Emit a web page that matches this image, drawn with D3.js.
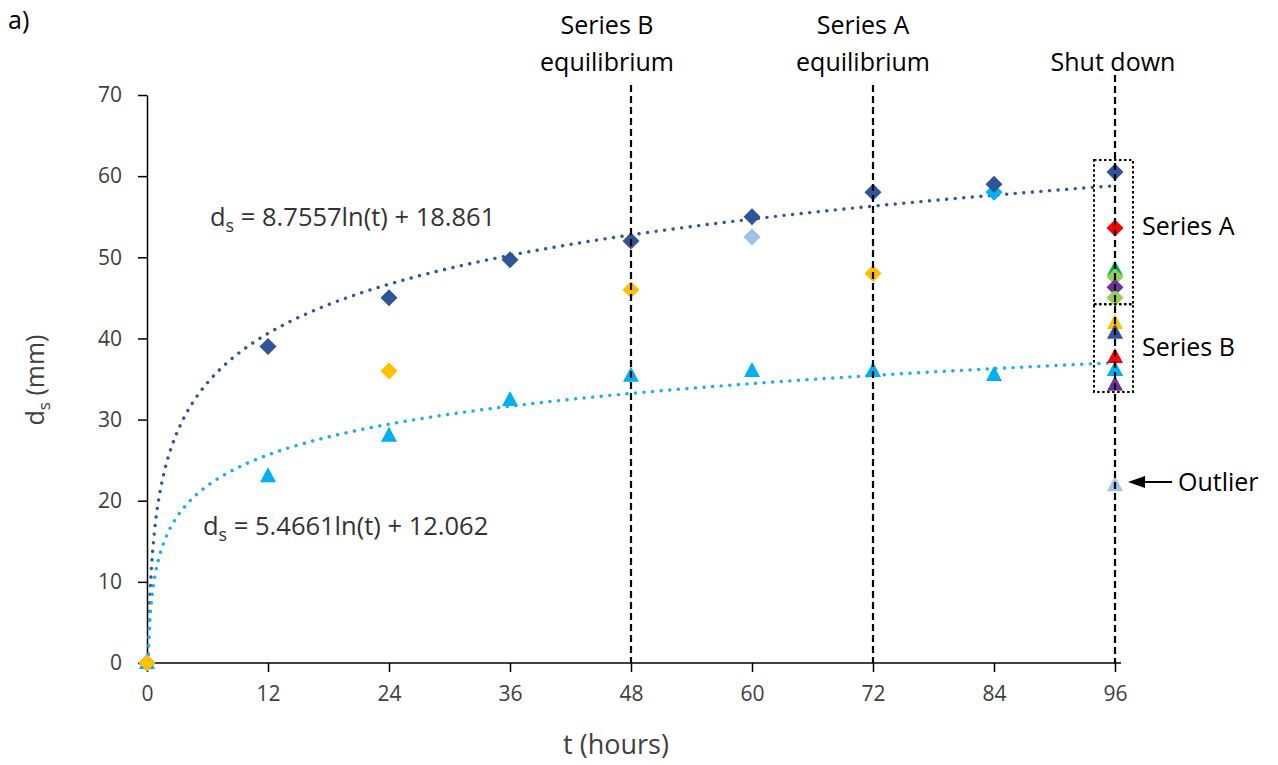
<!DOCTYPE html>
<html>
<head>
<meta charset="utf-8">
<script src="https://cdn.jsdelivr.net/npm/d3@7"></script>
<style>
  body { margin: 0; background: #fff; }
  text { font-family: "Open Sans", sans-serif; }
</style>
</head>
<body>
<svg id="chart" width="1278" height="765"></svg>
<script>
// hours on the x axis
const hours = [0, 12, 24, 36, 48, 60, 72, 84, 96];
const yTicks = [0, 10, 20, 30, 40, 50, 60, 70];

// main series
const seriesA = [0, 39, 45, 49.7, 52, 55, 58, 59, 60.5];      // dark blue diamonds
const seriesB = [0, 23, 28, 32.4, 35.4, 36, 36, 35.5, 36.1];  // cyan triangles

// other single runs
const yellowT = [0, 24, 48, 72];
const yellowV = [0, 36, 46, 48];
const lightBlueT = [60];
const lightBlueV = [52.5];
const cyanDiaT = [84];
const cyanDiaV = [58];

// shut down points at 96 h
const shutColors = ["#ff0000", "#00b050", "#92d050", "#7030a0", "#92d050",
                    "#ffc000", "#2f5597", "#ff0000", "#7030a0"];
const shutShapes = ["d", "t", "d", "d", "d", "t", "t", "t", "t"];
const shutValues = [53.6, 48.5, 47.6, 46.3, 45.0, 41.9, 40.7, 37.7, 34.3];
const outlierValue = 21.9;

// trendlines ds = a ln(t) + b
const trendA = [8.7557, 18.861];
const trendB = [5.4661, 12.062];

const svg = d3.select("#chart");
const x = d3.scaleLinear().domain([0, 96]).range([147, 1115]);
const y = d3.scaleLinear().domain([0, 70]).range([663, 95]);

const darkBlue = "#2f5597", cyan = "#00b0f0";

// axes
const gx = svg.append("g").attr("transform", "translate(0,663)")
  .call(d3.axisBottom(x).tickValues(hours).tickSize(9).tickPadding(14).tickSizeOuter(0));
gx.select(".domain").attr("d", "M147,0H1121");
const gy = svg.append("g").attr("transform", "translate(147,0)")
  .call(d3.axisLeft(y).tickValues(yTicks).tickSize(9).tickPadding(16).tickSizeOuter(0));
svg.selectAll(".domain, .tick line").attr("stroke", "#000").attr("stroke-width", 1.5);
svg.selectAll(".tick text").attr("font-size", 21).attr("fill", "#404040")
  .attr("font-family", "Open Sans, sans-serif");

// trendlines
const trend = (c) => {
  const t0 = Math.exp(-c[1] / c[0]);
  const ts = d3.range(0, 201).map(i => t0 * Math.pow(96 / t0, i / 200));
  return d3.line().x(t => x(t)).y(t => y(c[0] * Math.log(t) + c[1]))(ts);
};
svg.append("path").attr("d", trend(trendA)).attr("fill", "none")
  .attr("stroke", "#34589a").attr("stroke-width", 3.4)
  .attr("stroke-linecap", "round").attr("stroke-dasharray", "0.1 8.5");
svg.append("path").attr("d", trend(trendB)).attr("fill", "none")
  .attr("stroke", "#1ab0ef").attr("stroke-width", 3.4)
  .attr("stroke-linecap", "round").attr("stroke-dasharray", "0.1 8.5");

// markers
const diamond = (cx, cy, r = 8.5) => `M${cx},${cy - r}L${cx + r},${cy}L${cx},${cy + r}L${cx - r},${cy}Z`;
const tri = (cx, cy) => `M${cx},${cy - 9}L${cx + 8},${cy + 6}L${cx - 8},${cy + 6}Z`;
const mark = (ts, vs, shape, color) => {
  svg.append("g").selectAll("path").data(ts).join("path")
    .attr("d", (t, i) => shape === "d" ? diamond(x(t), y(vs[i])) : tri(x(t), y(vs[i])))
    .attr("fill", color);
};
mark(lightBlueT, lightBlueV, "d", "#9dc3e6");
mark(hours, seriesB, "t", cyan);
mark(cyanDiaT, cyanDiaV, "d", cyan);
mark(hours, seriesA, "d", darkBlue);
mark(yellowT, yellowV, "d", "#ffc000");
shutValues.forEach((v, i) => mark([96], [v], shutShapes[i], shutColors[i]));
mark([96], [seriesB[8]], "t", cyan);
mark([96], [outlierValue], "t", "#9dc3e6");

// vertical markers at 48, 72, 96
const vLines = [[48, 85], [72, 85], [96, 75]];
svg.append("g").selectAll("line").data(vLines).join("line")
  .attr("x1", d => x(d[0])).attr("x2", d => x(d[0]))
  .attr("y1", d => d[1]).attr("y2", 663)
  .attr("stroke", "#000").attr("stroke-width", 2.2).attr("stroke-dasharray", "7 4");

// dotted boxes around the shut down groups
const boxes = [[62, 44.2], [44.2, 33.4]];
svg.append("g").selectAll("rect").data(boxes).join("rect")
  .attr("x", 1094).attr("width", 39)
  .attr("y", d => y(d[0])).attr("height", d => y(d[1]) - y(d[0]))
  .attr("fill", "none").attr("stroke", "#000").attr("stroke-width", 2)
  .attr("stroke-dasharray", "2.5 2.5");

// labels
const label = (tx, ty, txt, size = 25, anchor = "middle") =>
  svg.append("text").attr("x", tx).attr("y", ty).attr("font-size", size)
    .attr("text-anchor", anchor).attr("fill", "#000").text(txt);
label(x(48) - 24, 34, "Series B");
label(x(48) - 24, 71, "equilibrium");
label(x(72) - 10, 34, "Series A");
label(x(72) - 10, 71, "equilibrium");
label(x(96) - 2, 71, "Shut down");
label(1142, 235, "Series A", 25, "start");
label(1142, 356, "Series B", 25, "start");
label(1178, 491, "Outlier", 25, "start");
label(8, 29, "a)", 25, "start");

svg.append("line").attr("x1", 1172).attr("x2", 1142).attr("y1", 482).attr("y2", 482)
  .attr("stroke", "#000").attr("stroke-width", 2);
svg.append("path").attr("d", "M1128,482L1145,476L1145,488Z").attr("fill", "#000");

// equations
const eq = (tx, ty, rest) => {
  const t = svg.append("text").attr("x", tx).attr("y", ty).attr("font-size", 25.5).attr("fill", "#333");
  t.append("tspan").text("d");
  t.append("tspan").attr("font-size", 18).attr("dy", 6).text("s");
  t.append("tspan").attr("dy", -6).text(rest);
};
eq(210, 226, ` = ${trendA[0]}ln(t) + ${trendA[1]}`);
eq(203, 535, ` = ${trendB[0]}ln(t) + ${trendB[1]}`);

// axis titles
svg.append("text").attr("x", 616).attr("y", 754).attr("text-anchor", "middle")
  .attr("font-size", 27).attr("fill", "#404040").text("t (hours)");
const yt = svg.append("text").attr("transform", "translate(44,380) rotate(-90)")
  .attr("text-anchor", "middle").attr("font-size", 25).attr("fill", "#404040");
yt.append("tspan").text("d");
yt.append("tspan").attr("font-size", 17).attr("dy", 6).text("s");
yt.append("tspan").attr("dy", -6).text(" (mm)");
</script>
</body>
</html>
